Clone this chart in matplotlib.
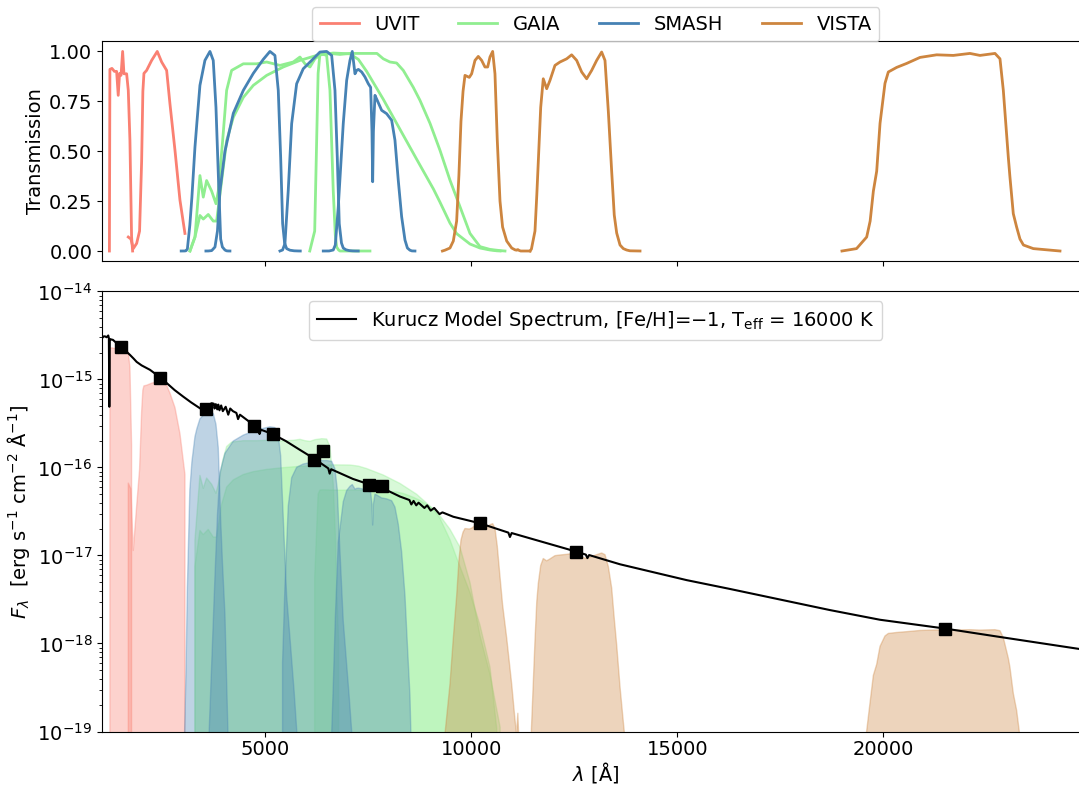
import numpy as np
import matplotlib
matplotlib.use('Agg')
import matplotlib.pyplot as plt

plt.rcParams['font.size'] = 14

# filter transmission curves, wavelength in Angstrom
fuv_wl = [1218, 1230, 1279, 1340, 1393, 1432, 1465, 1500, 1539, 1571, 1636, 1676, 1716, 1756, 1781]
fuv_tr = [0.0, 0.91, 0.915, 0.9, 0.9, 0.78, 0.89, 0.88, 1.0, 0.888, 0.888, 0.805, 0.555, 0.072, 0.0]
nuv_wl = [1676, 1740, 1797, 1879, 1950, 2000, 2030, 2056, 2121, 2243, 2379, 2486, 2607, 2687, 2809, 2930, 3051]
nuv_tr = [0.07, 0.06, 0.012, 0.038, 0.1, 0.45, 0.8, 0.89, 0.905, 0.955, 1.0, 0.947, 0.905, 0.738, 0.505, 0.255, 0.088]

bp_wl = [3173, 3294, 3415, 3496, 3577, 3699, 3804, 3860, 3966, 4063, 4184, 4468, 4791, 5034, 5357,
         5680, 5842, 5964, 6085, 6206, 6369, 6490, 6570, 6650, 6700, 6733, 6780, 6813, 7541]
bp_tr = [0.0, 0.07, 0.378, 0.27, 0.353, 0.3, 0.237, 0.3, 0.553, 0.805, 0.905, 0.938, 0.938, 0.947, 0.93,
         0.947, 0.972, 0.938, 0.922, 0.963, 0.988, 0.98, 0.805, 0.303, 0.08, 0.02, 0.005, 0.0, 0.0]
gg_wl = [3173, 3294, 3415, 3496, 3617, 3738, 3820, 3942, 4063, 4225, 4468, 4710, 5034, 5437, 5842, 6247,
         6650, 7056, 7260, 7461, 7865, 8269, 8674, 9083, 9240, 9483, 9645, 9969, 10211, 10454, 10617, 10700]
gg_tr = [0.0, 0.07, 0.178, 0.16, 0.183, 0.15, 0.15, 0.353, 0.553, 0.67, 0.77, 0.83, 0.88, 0.922, 0.955, 0.98,
         0.992, 0.988, 0.96, 0.9, 0.76, 0.61, 0.46, 0.31, 0.245, 0.14, 0.087, 0.035, 0.015, 0.005, 0.001, 0.0]
rp_wl = [6080, 6200, 6283, 6328, 6400, 6570, 6813, 7056, 7298, 7461, 7711, 7865, 8027, 8188, 8350,
         8593, 8755, 8998, 9240, 9483, 9726, 9969, 10211, 10454, 10700, 10818]
rp_tr = [0.0, 0.1, 0.89, 0.99, 0.995, 0.99, 0.985, 0.99, 0.99, 0.99, 0.99, 0.963, 0.947, 0.942, 0.905,
         0.82, 0.755, 0.64, 0.505, 0.355, 0.222, 0.088, 0.022, 0.008, 0.002, 0.0]

u_wl = [2960, 3040, 3075, 3110, 3170, 3220, 3294, 3340, 3415, 3536, 3658, 3738, 3804, 3860, 3918,
        3960, 4022, 4060, 4098, 4143]
u_tr = [0.0, 2e-4, 1e-3, 0.01, 0.13, 0.27, 0.52, 0.64, 0.83, 0.955, 1.0, 0.955, 0.72, 0.39, 0.06,
        0.02, 0.005, 0.001, 2e-4, 0.0]
g_wl = [3560, 3620, 3700, 3780, 3840, 3900, 4022, 4225, 4468, 4710, 4951, 5114, 5235, 5316, 5374,
        5422, 5470, 5519, 5600, 5700, 5800, 5850]
g_tr = [0.0, 2e-4, 0.002, 0.02, 0.1, 0.30, 0.5, 0.69, 0.805, 0.89, 0.96, 1.0, 0.98, 0.805, 0.47,
        0.137, 0.04, 0.012, 0.004, 0.001, 2e-4, 0.0]
r_wl = [5357, 5420, 5478, 5558, 5641, 5762, 5922, 6165, 6328, 6490, 6612, 6692, 6748, 6796, 6850,
        6893, 6960, 7040, 7120, 7178, 7257]
r_tr = [0.0, 0.005, 0.037, 0.303, 0.638, 0.838, 0.913, 0.963, 0.997, 1.0, 0.98, 0.805, 0.47, 0.137, 0.04,
        0.015, 0.006, 0.002, 6e-4, 2e-4, 0.0]
i_wl = [6408, 6550, 6650, 6700, 6772, 6893, 6976, 7056, 7112, 7178, 7218, 7260, 7340, 7420, 7501, 7558,
        7590, 7607, 7625, 7663, 7718, 7825, 7946, 8068, 8148, 8228, 8310, 8391, 8450, 8512, 8560, 8633]
i_tr = [0.0, 2e-4, 0.005, 0.03, 0.22, 0.638, 0.855, 0.955, 1.0, 0.888, 0.905, 0.91, 0.897, 0.872, 0.838, 0.82,
        0.6, 0.347, 0.6, 0.78, 0.755, 0.705, 0.688, 0.655, 0.555, 0.355, 0.172, 0.055, 0.015, 0.004, 5e-4, 0.0]

y_wl = [9300, 9360, 9483, 9564, 9645, 9700, 9750, 9800, 9847, 9952, 10009, 10090, 10170, 10252, 10332,
        10398, 10454, 10519, 10575, 10631, 10697, 10760, 10860, 10981, 11060, 11100, 11130, 11160, 11200, 11425]
y_tr = [0.0, 0.004, 0.015, 0.05, 0.15, 0.38, 0.65, 0.8, 0.88, 0.87, 0.888, 0.955, 0.975, 0.955, 0.922,
        0.922, 0.972, 1.0, 0.888, 0.555, 0.25, 0.12, 0.05, 0.015, 0.006, 0.004, 0.007, 0.003, 0.0, 0.0]
j_wl = [11425, 11460, 11546, 11590, 11627, 11685, 11747, 11830, 11910, 12031, 12153, 12315, 12436, 12558,
        12679, 12800, 12922, 13043, 13164, 13245, 13326, 13407, 13470, 13529, 13610, 13690, 13770, 13850, 14095]
j_tr = [0.0, 0.01, 0.1, 0.28, 0.45, 0.72, 0.863, 0.813, 0.855, 0.93, 0.947, 0.963, 0.983, 0.955,
        0.897, 0.863, 0.905, 0.955, 0.997, 0.955, 0.7, 0.4, 0.18, 0.09, 0.03, 0.012, 0.005, 0.001, 0.0]
ks_wl = [18996, 19350, 19596, 19680, 19758, 19839, 19920, 20040, 20121, 20324, 20567, 20890, 21294, 21698,
         22102, 22345, 22710, 22831, 22912, 23033, 23073, 23154, 23235, 23316, 23400, 23640, 24287]
ks_tr = [0.0, 0.012, 0.07, 0.15, 0.3, 0.4, 0.64, 0.84, 0.897, 0.92, 0.94, 0.97, 0.983, 0.98,
         0.99, 0.98, 0.99, 0.963, 0.805, 0.47, 0.37, 0.187, 0.12, 0.06, 0.03, 0.012, 0.0]

# flux that each filter curve peaks at in the lower panel
fuv_peak, nuv_peak = 2.5e-15, 9.5e-16
bp_peak, gg_peak, rp_peak = 2.15e-16, 1.08e-16, 5.6e-17
u_peak, g_peak, r_peak, i_peak = 4.3e-16, 2.9e-16, 1.2e-16, 6.4e-17
y_peak, j_peak, ks_peak = 2.3e-17, 1.07e-17, 1.45e-18

# photometry
phot_wl = [1491, 2445, 3561, 4720, 5180, 6189, 6390, 7510, 7825, 10211, 12541, 21493]
phot_flux = [2.37e-15, 1.05e-15, 4.68e-16, 3.0e-16, 2.43e-16, 1.23e-16, 1.52e-16, 6.4e-17, 6.1e-17,
             2.31e-17, 1.11e-17, 1.48e-18]

# Kurucz model spectrum, log10 flux
spec_wl = [1040, 1080, 1110, 1150, 1190, 1205, 1216, 1228, 1260, 1304, 1400, 1491, 1600, 1716, 1800,
           1879, 2000, 2202, 2445, 2607, 2800, 3010, 3200, 3415, 3550, 3634, 3660, 3700, 3750, 3770,
           3800, 3835, 3860, 3889, 3930, 3970, 4040, 4102, 4150, 4216, 4300, 4340, 4386, 4718, 4840,
           4861, 4890, 5180, 5500, 5842, 6189, 6530, 6563, 6600, 7128, 7510, 7825, 8269, 8500, 8545,
           8600, 8665, 8720, 8863, 8930, 9015, 9100, 9229, 9300, 9565, 10211, 10900, 10938, 10980,
           11983, 12541, 12780, 12818, 12860, 13610, 15228, 16275, 17489, 18702, 19916, 21493, 22748, 24727]
spec_logf = [-14.53, -14.51, -14.51, -14.52, -14.50, -14.53, -15.31, -14.54, -14.545, -14.55, -14.59, -14.627,
             -14.67, -14.72, -14.76, -14.80, -14.84, -14.89, -14.975, -15.04, -15.12, -15.195, -15.26, -15.327,
             -15.355, -15.37, -15.28, -15.27, -15.275, -15.33, -15.28, -15.34, -15.285, -15.35, -15.295,
             -15.36, -15.31, -15.40, -15.33, -15.36, -15.38, -15.45, -15.40, -15.517, -15.55, -15.62,
             -15.57, -15.62, -15.70, -15.80, -15.90, -16.01, -16.07, -16.02, -16.13, -16.19, -16.23, -16.33,
             -16.37, -16.42, -16.38, -16.43, -16.40, -16.46, -16.43, -16.49, -16.46, -16.53, -16.51, -16.56,
             -16.634, -16.74, -16.79, -16.745, -16.88, -16.955, -16.99, -17.03, -16.995, -17.1, -17.28,
             -17.38, -17.50, -17.62, -17.73, -17.83, -17.92, -18.06]

surveys = [
    ('UVIT', 'salmon', [(fuv_wl, fuv_tr, fuv_peak), (nuv_wl, nuv_tr, nuv_peak)]),
    ('GAIA', 'lightgreen', [(bp_wl, bp_tr, bp_peak), (gg_wl, gg_tr, gg_peak), (rp_wl, rp_tr, rp_peak)]),
    ('SMASH', 'steelblue', [(u_wl, u_tr, u_peak), (g_wl, g_tr, g_peak), (r_wl, r_tr, r_peak),
                            (i_wl, i_tr, i_peak)]),
    ('VISTA', 'peru', [(y_wl, y_tr, y_peak), (j_wl, j_tr, j_peak), (ks_wl, ks_tr, ks_peak)]),
]

fig = plt.figure(figsize=(10.79, 7.88), dpi=100)
ax1 = fig.add_axes([0.0946, 0.6688, 0.915, 0.2786])
ax2 = fig.add_axes([0.0946, 0.0717, 0.915, 0.5584], sharex=ax1)
ax2.set_yscale('log')

for name, color, filters in surveys:
    for k, (wl, tr, peak) in enumerate(filters):
        ax1.plot(wl, tr, color=color, lw=2, label=name if k == 0 else None)
        ax2.fill_between(wl, np.array(tr) * peak, 0, color=color, alpha=0.35)

ax2.plot(spec_wl, 10 ** np.array(spec_logf), color='k', lw=1.5,
         label='Kurucz Model Spectrum, [Fe/H]=$-$1, T$_{\\mathrm{eff}}$ = 16000 K')
ax2.plot(phot_wl, phot_flux, 's', color='k', ms=8)

ax1.set_xlim(1040, 25000)
ax1.set_ylim(-0.05, 1.05)
ax1.set_yticks([0, 0.25, 0.5, 0.75, 1.0])
ax1.set_xticks([5000, 10000, 15000, 20000])
ax1.tick_params(labelbottom=False)
ax1.set_ylabel('Transmission', labelpad=3)
ax1.legend(loc='lower center', bbox_to_anchor=(0.5, 1.0), ncol=4, borderaxespad=0)

ax2.set_ylim(1e-19, 1e-14)
ax2.tick_params(axis='x', pad=2.5)
ax2.set_xlabel(r'$\lambda$ [Å]', labelpad=1)
ax2.set_ylabel(r'$F_\lambda$  [erg s$^{-1}$ cm$^{-2}$ Å$^{-1}$]')
ax2.legend(loc='upper center')

fig.savefig('out.png', dpi=100)
